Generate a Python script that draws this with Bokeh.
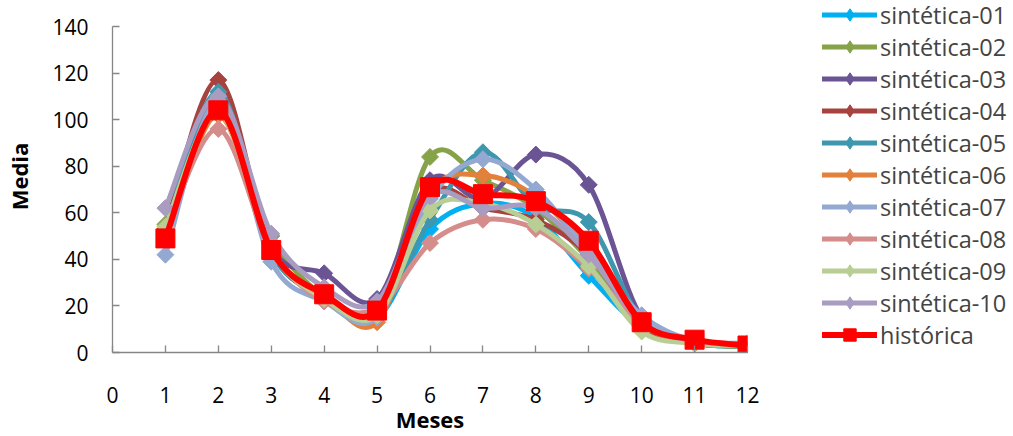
import numpy as np
from bokeh.plotting import figure
from bokeh.layouts import row
from bokeh.models import Range1d, Legend, LegendItem, FixedTicker
from bokeh.embed import file_html
from bokeh.resources import INLINE

meses = list(range(1, 13))
x_ticks = list(range(0, 13))
y_ticks = list(range(0, 141, 20))

s01 = [50, 105, 43, 24, 15, 53, 64, 58, 33, 11, 4, 2.5]
s02 = [55, 108, 50, 24, 16, 84, 74, 62, 40, 11, 4, 2.5]
s03 = [52, 110, 45, 34, 23, 74, 66, 85, 72, 15, 5, 3]
s04 = [53, 117, 44, 24, 15, 68, 62, 57, 42, 12, 4, 3]
s05 = [52, 112, 43, 25, 16, 57, 86, 63, 56, 14, 5, 3]
s06 = [48, 102, 44, 24, 13, 69, 76, 67, 44, 13, 4, 3]
s07 = [42, 108, 39, 22, 15, 66, 83, 70, 43, 16, 5, 3]
s08 = [52, 96, 44, 22, 19, 47, 57, 53, 36, 12, 4, 3]
s09 = [54, 103, 44, 23, 16, 61, 64, 55, 37, 9, 4, 3]
s10 = [62, 110, 51, 28, 22, 67, 62, 62, 42, 13, 5, 4]
historica = [49, 104, 44, 25, 18, 71, 68, 65, 48, 13, 5.5, 3]

names = ["sintética-01", "sintética-02", "sintética-03", "sintética-04", "sintética-05",
         "sintética-06", "sintética-07", "sintética-08", "sintética-09", "sintética-10"]
colors = ["#00B0F0", "#86A34A", "#6B5494", "#A8423F", "#3E97AE",
          "#E2813B", "#93A9D2", "#D48D8B", "#B8CE94", "#A89CC1"]
synth = [s01, s02, s03, s04, s05, s06, s07, s08, s09, s10]

FONT = "Open Sans"

Y_MAX = 140
PLOT_TOP_GAP = 26      # px between canvas top and the 140 tick
FRAME_H = 352          # px from canvas top to the x axis
y_top = Y_MAX * FRAME_H / (FRAME_H - PLOT_TOP_GAP)


def bez(x, y, t=1.0 / 6.0):
    x = np.asarray(x, float)
    y = np.asarray(y, float)
    n = len(x)
    xp = np.concatenate([[x[0]], x, [x[-1]]])
    yp = np.concatenate([[y[0]], y, [y[-1]]])
    return dict(
        x0=x[:-1], y0=y[:-1], x1=x[1:], y1=y[1:],
        cx0=x[:-1] + (xp[2:n + 1] - xp[0:n - 1]) * t,
        cy0=y[:-1] + (yp[2:n + 1] - yp[0:n - 1]) * t,
        cx1=x[1:] - (xp[3:n + 2] - xp[1:n]) * t,
        cy1=y[1:] - (yp[3:n + 2] - yp[1:n]) * t,
    )


p = figure(width=767, height=436, output_backend="svg", toolbar_location=None, title=None,
           x_range=Range1d(0, 12), y_range=Range1d(0, y_top),
           min_border_left=112, min_border_right=20, min_border_top=0, min_border_bottom=84)
p.outline_line_color = None
p.xgrid.visible = False
p.ygrid.visible = False
p.background_fill_color = "white"
p.border_fill_color = "white"

for ax, ticks in ((p.xaxis[0], x_ticks), (p.yaxis[0], y_ticks)):
    ax.ticker = FixedTicker(ticks=ticks)
    ax.axis_line_color = "#868686"
    ax.axis_line_width = 1.3
    ax.major_tick_line_color = "#868686"
    ax.major_tick_line_width = 1.3
    ax.major_tick_in = 7
    ax.major_tick_out = 0
    ax.minor_tick_line_color = None
    ax.major_label_text_font = FONT
    ax.major_label_text_font_size = "21px"
    ax.major_label_text_color = "black"
    ax.axis_label_text_font = FONT
    ax.axis_label_text_font_style = "bold"
    ax.axis_label_text_font_size = "22px"
    ax.axis_label_text_color = "black"

p.yaxis.bounds = (0, Y_MAX)
p.xaxis.axis_label = "Meses"
p.yaxis.axis_label = "Media"
p.xaxis.major_label_standoff = 34
p.xaxis.axis_label_standoff = -2
p.yaxis.major_label_standoff = 24
p.yaxis.axis_label_standoff = 15

for ys, c in zip(synth, colors):
    p.bezier(source=bez(meses, ys), x0="x0", y0="y0", x1="x1", y1="y1",
             cx0="cx0", cy0="cy0", cx1="cx1", cy1="cy1",
             line_color=c, line_width=5, line_cap="round")
    p.scatter(meses, ys, marker="square", angle=np.pi / 4, size=12,
              fill_color=c, line_color=c, line_width=1)

p.bezier(source=bez(meses, historica), x0="x0", y0="y0", x1="x1", y1="y1",
         cx0="cx0", cy0="cy0", cx1="cx1", cy1="cy1",
         line_color="#FF0000", line_width=6, line_cap="round")
p.scatter(meses, historica, marker="square", size=19,
          fill_color="#FF0000", line_color="#FF0000")

# legend panel: a second figure whose ranges keep its stand-in glyphs out of view
lg = figure(width=246, height=436, output_backend="svg", toolbar_location=None, title=None,
            x_range=Range1d(-100, -99), y_range=Range1d(-100, -99),
            x_axis_location=None, y_axis_location=None,
            min_border_left=0, min_border_right=0, min_border_top=0, min_border_bottom=0)
lg.outline_line_color = None
lg.xgrid.visible = False
lg.ygrid.visible = False
lg.background_fill_color = "white"
lg.border_fill_color = "white"

items = []
for name, ys, c in zip(names, synth, colors):
    lr = lg.line(meses, ys, line_color=c, line_width=5, line_cap="round")
    sr = lg.scatter(meses, ys, marker="diamond", size=12, fill_color=c, line_color=c)
    items.append(LegendItem(label=name, renderers=[lr, sr]))
hl = lg.line(meses, historica, line_color="#FF0000", line_width=6, line_cap="round")
hs = lg.scatter(meses, historica, marker="square", size=19, fill_color="#FF0000", line_color="#FF0000")
items.append(LegendItem(label="histórica", renderers=[hl, hs]))

legend = Legend(items=items, location=(55, 1.5), padding=0, spacing=0, margin=0,
                glyph_width=55, glyph_height=31, label_height=31, label_standoff=3,
                label_text_font=FONT, label_text_font_size="23.5px",
                border_line_color=None, background_fill_alpha=0)
lg.add_layout(legend, "center")

layout = row(p, lg, spacing=0)
open("out.html", "w").write(file_html(layout, INLINE))
